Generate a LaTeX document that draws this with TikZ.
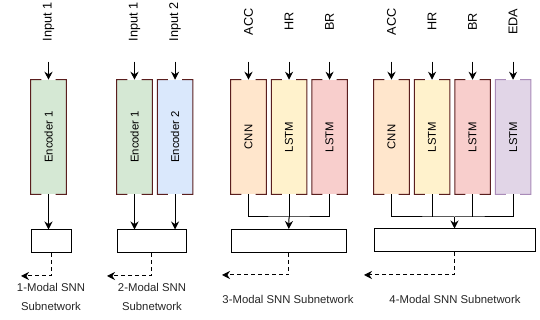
\documentclass[tikz,border=0pt]{standalone}
\usepackage{fontspec}
\setmainfont{Liberation Sans}
\usetikzlibrary{positioning, arrows.meta, calc}

% Fill colours of the modality branches
\definecolor{encgreen}{HTML}{D5E8D4}
\definecolor{encblue}{HTML}{DAE8FC}
\definecolor{accorange}{HTML}{FFE6CC}
\definecolor{hryellow}{HTML}{FFF2CC}
\definecolor{brred}{HTML}{F8CECC}
\definecolor{edapurple}{HTML}{E1D5E7}
\definecolor{frameline}{HTML}{5A1E1E}
\definecolor{edaline}{HTML}{A98BB8}

\begin{document}
\begin{tikzpicture}[
    x=0.75pt, y=-0.75pt,
    >=Stealth,
    % Styles
    branch/.style={ % Encoder / CNN / LSTM column
        rectangle,
        minimum width=26.25pt,
        minimum height=85.5pt,
        inner sep=0pt,
        font=\fontsize{8.5}{10}\selectfont
    },
    frame/.style={
        draw=frameline,
        line width=0.75pt
    },
    fusion/.style={ % Subnetwork block
        rectangle,
        draw,
        line width=0.75pt,
        minimum height=17.25pt,
        inner sep=0pt
    },
    inlabel/.style={
        rotate=90,
        font=\fontsize{9.5}{11}\selectfont
    },
    caption/.style={
        align=center,
        text=black!85,
        font=\fontsize{8.5}{14}\selectfont
    },
    line/.style={
        line width=0.75pt
    },
    arrow/.style={
        line,
        -{Stealth[length=6pt, width=6pt]}
    },
    skip/.style={
        arrow,
        dash pattern=on 3pt off 2.25pt
    }
]
    \useasboundingbox (0,0) rectangle (540,320);

    % 1-modal branch
    \node[branch, fill=encgreen] (enc11) at (48.5,137) {\rotatebox{90}{Encoder 1}};

    % 2-modal branches
    \node[branch, fill=encgreen] (enc21) at (134.5,137) {\rotatebox{90}{Encoder 1}};
    \node[branch, fill=encblue, right=3.75pt of enc21] (enc22) {\rotatebox{90}{Encoder 2}};

    % 3-modal branches
    \node[branch, fill=accorange] (cnn3) at (248.5,137) {\rotatebox{90}{CNN}};
    \node[branch, fill=hryellow, right=3.75pt of cnn3] (hr3) {\rotatebox{90}{LSTM}};
    \node[branch, fill=brred, right=3.75pt of hr3] (br3) {\rotatebox{90}{LSTM}};

    % 4-modal branches
    \node[branch, fill=accorange] (cnn4) at (391.5,137) {\rotatebox{90}{CNN}};
    \node[branch, fill=hryellow, right=3.75pt of cnn4] (hr4) {\rotatebox{90}{LSTM}};
    \node[branch, fill=brred, right=3.75pt of hr4] (br4) {\rotatebox{90}{LSTM}};
    \node[branch, fill=edapurple, right=3.75pt of br4] (eda4) {\rotatebox{90}{LSTM}};

    % Open frames round the branches
    \foreach \n in {enc11, enc21, enc22, cnn3, hr3, br3, cnn4, hr4, br4} {
        \draw[frame] ($(\n.north west)!0.3!(\n.north east)$) -- (\n.north west)
            -- (\n.south west) -- ($(\n.south west)!0.3!(\n.south east)$)
            ($(\n.north east)!0.3!(\n.north west)$) -- (\n.north east)
            -- (\n.south east) -- ($(\n.south east)!0.3!(\n.south west)$);
    }
    \draw[frame, draw=edaline] ($(eda4.north west)!0.3!(eda4.north east)$) -- (eda4.north west)
        -- (eda4.south west) -- ($(eda4.south west)!0.3!(eda4.south east)$)
        ($(eda4.north east)!0.3!(eda4.north west)$) -- (eda4.north east)
        -- (eda4.south east) -- ($(eda4.south east)!0.3!(eda4.south west)$);

    % Inputs
    \foreach \n/\t in {enc11/Input 1, enc21/Input 1, enc22/Input 2,
                       cnn3/ACC, hr3/HR, br3/BR,
                       cnn4/ACC, hr4/HR, br4/BR, eda4/EDA} {
        \coordinate[above=13.5pt of \n] (in-\n);
        \node[inlabel] (lbl-\n) at ($(in-\n)+(0,-40)$) {\t};
        \draw[arrow] (in-\n) -- (\n);
    }

    % Subnetwork blocks
    \node[fusion, minimum width=30pt] (out1) at (51,241.5) {};
    \node[fusion, minimum width=51.75pt] (out2) at (151.5,241.5) {};
    \node[fusion, minimum width=86.25pt] (out3) at (288.5,241) {};
    \node[fusion, minimum width=120.75pt] (out4) at (454.5,240.5) {};

    % Connections
    \draw[arrow] (enc11) -- (enc11 |- out1.north);
    \draw[arrow] (enc21) -- (enc21 |- out2.north);
    \draw[arrow] (enc22) -- (enc22 |- out2.north);

    \coordinate (j3) at (hr3 |- 0,217);
    \draw[line] (cnn3.south) |- (j3) -| (br3.south);
    \draw[line] (hr3) -- (j3);
    \draw[arrow] (j3) -- (out3);

    \coordinate (j4) at (out4 |- 0,217);
    \draw[line] (cnn4.south) |- (j4) -| (eda4.south);
    \draw[line] (hr4) -- (hr4 |- j4);
    \draw[line] (br4) -- (br4 |- j4);
    \draw[arrow] (j4) -- (out4);

    % Outputs to the next stage
    \coordinate (o1) at (21,276);
    \coordinate (o2) at (107,276);
    \coordinate (o3) at (222,275);
    \coordinate (o4) at (364,275);
    \foreach \i in {1,2,3,4} {
        \draw[skip] (out\i) |- (o\i);
    }

    % Captions
    \node[caption] (cap1) at (51,297) {1-Modal SNN\\Subnetwork};
    \node[caption] (cap2) at (152,297) {2-Modal SNN\\Subnetwork};
    \node[caption] (cap3) at (288,299) {3-Modal SNN Subnetwork};
    \node[caption] (cap4) at (455,299) {4-Modal SNN Subnetwork};
\end{tikzpicture}
\end{document}
